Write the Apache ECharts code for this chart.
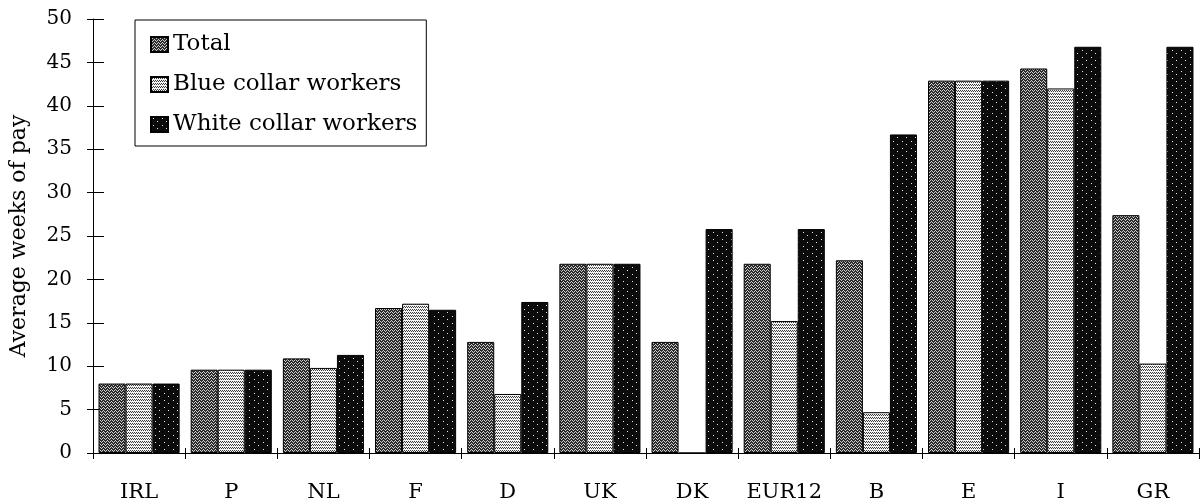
<!DOCTYPE html>
<html>
<head>
<meta charset="utf-8">
<title>Average weeks of pay</title>
<script src="https://cdn.jsdelivr.net/npm/echarts@6/dist/echarts.min.js"></script>
<style>
  html, body { margin: 0; padding: 0; background: #fff; }
  #chart { width: 1200px; height: 504px; }
</style>
</head>
<body>
<div id="chart"></div>
<script>
// Countries, ordered by the white collar value
const countries = ['IRL', 'P', 'NL', 'F', 'D', 'UK', 'DK', 'EUR12', 'B', 'E', 'I', 'GR'];

// Average weeks of pay
const totalWeeks = [8, 9.6, 10.9, 16.7, 12.8, 21.8, 12.8, 21.8, 22.2, 42.9, 44.3, 27.4];
const blueCollarWeeks = [8, 9.6, 9.8, 17.2, 6.8, 21.8, 0, 15.2, 4.7, 42.9, 42.0, 10.3];
const whiteCollarWeeks = [8, 9.6, 11.3, 16.5, 17.4, 21.8, 25.8, 25.8, 36.7, 42.9, 46.8, 46.8];

const seriesNames = ['Total', 'Blue collar workers', 'White collar workers'];
const yTicks = { min: 0, max: 50, interval: 5 };

const FONT = '"DejaVu Serif", "Liberation Serif", serif';

// Small repeating tiles that give the bars their printed screen texture
function makeTile(w, h, bg, fg, dots) {
  const c = document.createElement('canvas');
  c.width = w; c.height = h;
  const ctx = c.getContext('2d');
  ctx.fillStyle = bg;
  ctx.fillRect(0, 0, w, h);
  ctx.fillStyle = fg;
  dots.forEach(([x, y]) => ctx.fillRect(x, y, 1, 1));
  return { image: c, repeat: 'repeat' };
}

const totalFill = makeTile(4, 3, '#2b2b2b', '#cfcfcf',
  [[0, 0], [2, 0], [1, 1], [3, 2]]);
const blueFill = makeTile(6, 3, '#f4f4f4', '#3a3a3a',
  [[0, 0], [2, 0], [4, 0], [1, 1], [3, 1], [5, 1]]);
const whiteFill = makeTile(9, 7, '#0b0b0b', '#e8e8e8',
  [[2, 1], [6, 4]]);

const chart = echarts.init(document.getElementById('chart'), null, { renderer: 'canvas' });

function barSeries(name, data, fill) {
  return {
    name: name,
    type: 'bar',
    data: data,
    barGap: '0%',
    barCategoryGap: '12%',
    itemStyle: { color: fill, borderColor: '#000', borderWidth: 1 },
    emphasis: { disabled: true }
  };
}

const axisLine = { show: true, lineStyle: { color: '#000', width: 1 } };

chart.setOption({
  animation: false,
  backgroundColor: '#fff',
  textStyle: { fontFamily: FONT, color: '#000' },
  grid: {
    left: 93, right: 1, top: 19, bottom: 51,
    containLabel: false,
    outerBoundsMode: 'none'
  },
  legend: {
    orient: 'vertical',
    left: 135,
    top: 20,
    data: seriesNames,
    icon: 'rect',
    itemWidth: 17,
    itemHeight: 15,
    itemGap: 17,
    padding: [13, 9, 10, 15],
    borderColor: '#000',
    borderWidth: 1,
    selectedMode: false,
    textStyle: { fontFamily: FONT, fontSize: 23, color: '#000' }
  },
  xAxis: [
    {
      type: 'category',
      data: countries,
      axisLine: axisLine,
      axisTick: { show: true, length: 6, lineStyle: { color: '#000' } },
      axisLabel: { fontFamily: FONT, fontSize: 21, color: '#000', margin: 29, interval: 0 }
    },
    {
      type: 'category',
      data: countries,
      position: 'bottom',
      axisLine: { show: false },
      axisTick: { show: true, inside: true, length: 5, lineStyle: { color: '#000' } },
      axisLabel: { show: false }
    }
  ],
  yAxis: [
    {
      type: 'value',
      min: yTicks.min,
      max: yTicks.max,
      interval: yTicks.interval,
      name: 'Average weeks of pay',
      nameLocation: 'middle',
      nameGap: 63,
      nameTextStyle: { fontFamily: FONT, fontSize: 22, color: '#000' },
      axisLine: axisLine,
      axisTick: { show: true, length: 6, lineStyle: { color: '#000' } },
      axisLabel: { fontFamily: FONT, fontSize: 20, color: '#000', margin: 21 },
      splitLine: { show: false }
    },
    {
      type: 'value',
      min: yTicks.min,
      max: yTicks.max,
      interval: yTicks.interval,
      position: 'left',
      axisLine: { show: false },
      axisTick: { show: true, inside: true, length: 11, lineStyle: { color: '#000' } },
      axisLabel: { show: false },
      splitLine: { show: false }
    }
  ],
  series: [
    barSeries(seriesNames[0], totalWeeks, totalFill),
    barSeries(seriesNames[1], blueCollarWeeks, blueFill),
    barSeries(seriesNames[2], whiteCollarWeeks, whiteFill)
  ]
});
</script>
</body>
</html>
